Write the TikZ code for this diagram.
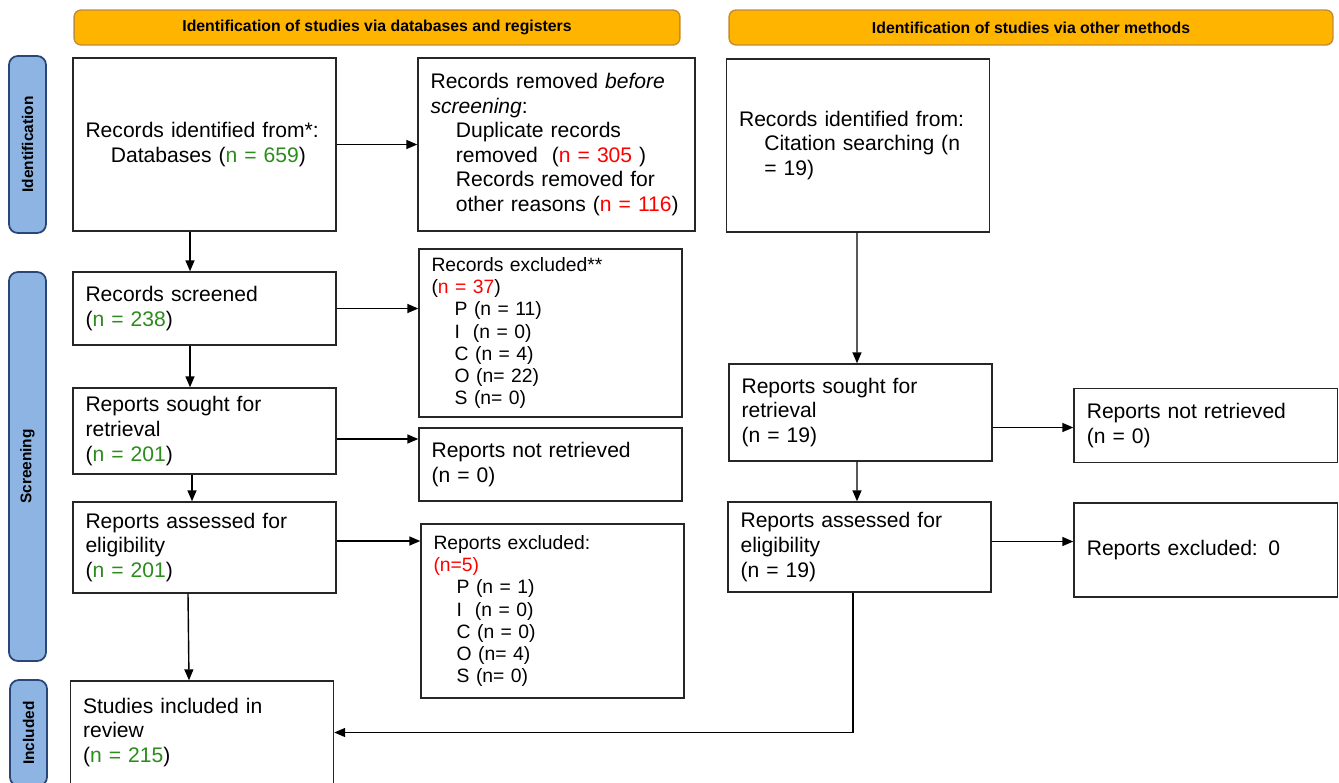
\documentclass[tikz,border=0pt]{standalone}
\usepackage{fontspec}
\setmainfont{Liberation Sans}
\usetikzlibrary{arrows.meta}

\definecolor{ngreen}{RGB}{44,140,28}
\definecolor{nred}{RGB}{255,0,0}
\definecolor{bannerfill}{RGB}{255,180,0}
\definecolor{bannerdraw}{RGB}{196,140,50}
\definecolor{phasefill}{RGB}{141,180,226}
\definecolor{phasedraw}{RGB}{40,70,120}

\newcommand{\gn}[1]{\textcolor{ngreen}{#1}}
\newcommand{\rd}[1]{\textcolor{nred}{#1}}
\newcommand{\ind}{\hspace*{1.2em}}

\begin{document}
\begin{tikzpicture}[x=0.02cm, y=-0.02cm,
    box/.style={draw=black!85, line width=0.8pt, fill=white, align=left,
                inner xsep=0.25cm, inner ysep=0pt, minimum width=5.26cm,
                text width=4.76cm, font=\fontsize{12}{14}\selectfont},
    smallbox/.style={box, font=\fontsize{11}{12.6}\selectfont},
    banner/.style={draw=bannerdraw, fill=bannerfill, rounded corners=4pt,
                   line width=0.8pt, minimum height=0.7cm,
                   font=\fontsize{9}{10}\selectfont\bfseries},
    phase/.style={draw=phasedraw, fill=phasefill, rounded corners=5pt,
                  line width=1pt, minimum height=0.74cm, rotate=90,
                  font=\fontsize{8.8}{10}\selectfont\bfseries},
    arr/.style={-{Triangle[length=2.2mm,width=1.8mm]}, line width=0.8pt}
]
\useasboundingbox (0,0) rectangle (1339,782);

% headers and phases
\node[banner, minimum width=12.12cm] (hdb) at (377,27.5)
    {Identification of studies via databases and registers};
\node[banner, minimum width=12.08cm] (hoth) at (1031,27.5)
    {Identification of studies via other methods};

\node[phase, minimum width=3.54cm] (phid) at (27.5,144.5) {Identification};
\node[phase, minimum width=7.78cm] (phscr) at (27.5,466.5) {Screening};
\node[phase, minimum width=2.12cm] (phinc) at (28.5,733) {Included};

% databases and registers
\node[box, minimum height=3.46cm] (dbid) at (204.5,144.5)
    {Records identified from*:\\ \ind Databases (\gn{n = 659})};
\node[box, minimum width=5.54cm, text width=5.04cm, minimum height=3.46cm] (dbrem) at (556.5,144.5)
    {Records removed \textit{before}\\ \textit{screening}:\\
     \ind Duplicate records\\ \ind removed\ \ (\rd{n = 305} )\\
     \ind Records removed for\\ \ind other reasons (\rd{n = 116})};
\node[box, minimum height=1.46cm] (dbscr) at (204.5,308.5)
    {Records screened\\ (\gn{n = 238})};
\node[smallbox, minimum height=3.36cm] (dbexc) at (550.5,333)
    {Records excluded**\\ (\rd{n = 37})\\ \ind P (n = 11)\\ \ind I\ \ (n = 0)\\
     \ind C (n = 4)\\ \ind O (n= 22)\\ \ind S (n= 0)};
\node[box, minimum height=1.72cm] (dbsought) at (204.5,431)
    {Reports sought for\\ retrieval\\ (\gn{n = 201})};
\node[box, minimum height=1.46cm] (dbnot) at (550.5,464.5)
    {Reports not retrieved\\ (n = 0)};
\node[box, minimum height=1.82cm] (dbassess) at (204.5,547.5)
    {Reports assessed for\\ eligibility\\ (\gn{n = 201})};
\node[smallbox, minimum height=3.48cm] (dbrepexc) at (552.5,611)
    {Reports excluded:\\ \rd{(n=5)}\\ \ind P (n = 1)\\ \ind I\ \ (n = 0)\\
     \ind C (n = 0)\\ \ind O (n= 4)\\ \ind S (n= 0)};
\node[box, minimum width=5.24cm, minimum height=2.06cm] (incl) at (202,732.5)
    {Studies included in\\ review\\ (\gn{n = 215})};

% other methods
\node[box, minimum height=3.46cm] (oid) at (858,145.5)
    {Records identified from:\\ \ind Citation searching (n\\ \ind = 19)};
\node[box, minimum height=1.94cm] (osought) at (860.5,412.5)
    {Reports sought for\\ retrieval\\ (n = 19)};
\node[box, minimum width=5.27cm, minimum height=1.48cm] (onot) at (1205.75,425.5)
    {Reports not retrieved\\ (n = 0)};
\node[box, minimum height=1.8cm] (oassess) at (859.5,547)
    {Reports assessed for\\ eligibility\\ (n = 19)};
\node[box, minimum width=5.27cm, minimum height=1.88cm] (oexc) at (1205.75,550)
    {Reports excluded: 0};

% arrows
\draw[arr] (dbid.east) -- (dbrem.west);
\draw[arr] ([xshift=-0.29cm]dbid.south) -- ([xshift=-0.29cm]dbscr.north);
\draw[arr] (dbscr.east) -- (dbscr.east -| dbexc.west);
\draw[arr] ([xshift=-0.29cm]dbscr.south) -- ([xshift=-0.29cm]dbsought.north);
\draw[arr] ([yshift=-0.16cm]dbsought.east) -- ([yshift=-0.16cm]dbsought.east -| dbnot.west);
\draw[arr] ([xshift=-0.25cm]dbsought.south) -- ([xshift=-0.25cm]dbassess.north);
\draw[arr] ([yshift=0.13cm]dbassess.east) -- ([yshift=0.13cm]dbassess.east -| dbrepexc.west);
\draw[arr] ([xshift=-0.33cm]dbassess.south) -- ([xshift=-0.26cm]incl.north);

\draw[arr] ([xshift=-0.02cm]oid.south) -- ([xshift=-0.07cm]osought.north);
\draw[arr] ([yshift=-0.30cm]osought.east) -- ([yshift=-0.30cm]osought.east -| onot.west);
\draw[arr] ([xshift=-0.07cm]osought.south) -- ([xshift=-0.05cm]oassess.north);
\draw[arr] ([yshift=0.11cm]oassess.east) -- ([yshift=0.11cm]oassess.east -| oexc.west);
\draw[arr] ([xshift=-0.13cm]oassess.south) |- (incl.east);

\end{tikzpicture}
\end{document}
